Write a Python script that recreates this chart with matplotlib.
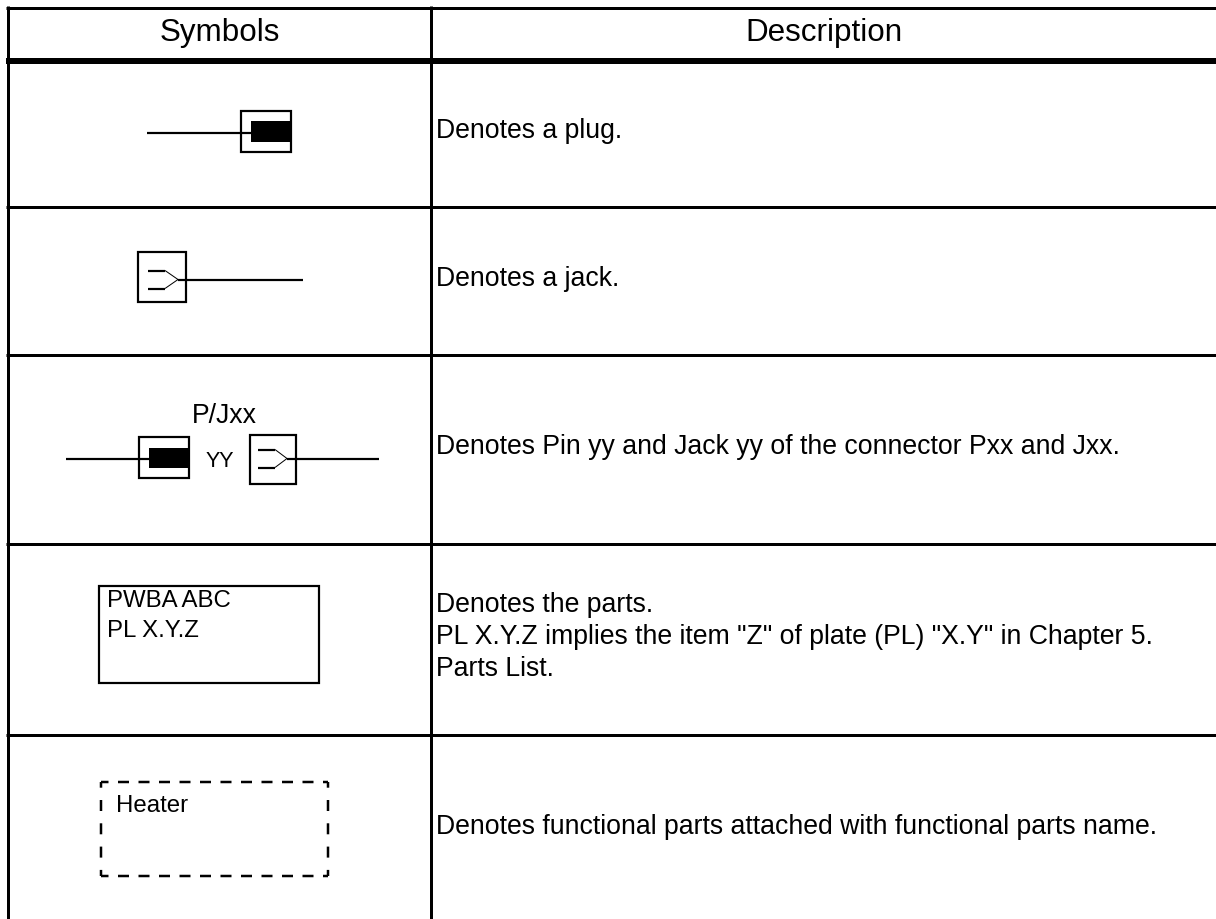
import matplotlib.pyplot as plt
from matplotlib.patches import Rectangle

plt.rcParams['font.family'] = ['Liberation Sans', 'DejaVu Sans']

headers = ['Symbols', 'Description']
descriptions = [
    'Denotes a plug.',
    'Denotes a jack.',
    'Denotes Pin yy and Jack yy of the connector Pxx and Jxx.',
    'Denotes the parts.',
    'PL X.Y.Z implies the item "Z" of plate (PL) "X.Y" in Chapter 5.',
    'Parts List.',
    'Denotes functional parts attached with functional parts name.',
]
part_labels = ['PWBA ABC', 'PL X.Y.Z']
heater_label = 'Heater'
connector_labels = ['P/Jxx', 'YY']

W, H = 1216, 919
PX = 72 / 100
BODY = 19.2
SMALL = 17.3
LW = 3 * PX
THIN = 2.2 * PX
DASH = 2.5 * PX

fig = plt.figure(figsize=(W / 100, H / 100), dpi=100)
ax = fig.add_axes([0, 0, 1, 1])
ax.set_xlim(0, W)
ax.set_ylim(H, 0)
ax.axis('off')


def line(xs, ys, lw=THIN, **kw):
    ax.plot(xs, ys, color='black', lw=lw, solid_capstyle='butt',
            solid_joinstyle='miter', dash_capstyle='butt', **kw)


def box(x0, y0, x1, y1):
    ax.add_patch(Rectangle((x0, y0), x1 - x0, y1 - y0, fill=False,
                           edgecolor='black', lw=THIN))


def plug(x_start, y, x0, x1, y0, y1, x_fill, y_fill0, y_fill1):
    line([x_start, x_fill], [y, y])
    box(x0, y0, x1, y1)
    ax.add_patch(Rectangle((x_fill, y_fill0), x1 + 1 - x_fill, y_fill1 - y_fill0,
                           facecolor='black', edgecolor='none'))


def jack(x0, x1, y0, y1, y, x_end, x_a, x_b, x_c, dy):
    box(x0, y0, x1, y1)
    line([x_c, x_end], [y, y])
    # prongs are heavier than the slanted part
    line([x_a, x_b], [y - dy, y - dy])
    line([x_a, x_b], [y + dy, y + dy])
    line([x_b, x_c, x_b], [y - dy, y, y + dy], lw=1 * PX)


# table rules
line([6, W], [7.5, 7.5], lw=LW)
line([6, W], [61, 61], lw=6 * PX)
for y in [207, 354.5, 544, 735]:
    line([6, W], [y, y], lw=LW)
line([7.5, 7.5], [6, H], lw=LW)
line([431, 431], [6, H], lw=LW)

ax.text(219.5, 41, headers[0], fontsize=22.6, ha='center', va='baseline')
ax.text(824, 41, headers[1], fontsize=22.6, ha='center', va='baseline')

# symbols
plug(147, 133, 241, 291, 111, 152, 251, 121, 141.5)
jack(138, 186, 252, 302, 279.5, 303, 147.5, 165, 178, 9)

plug(66, 458.5, 139, 189, 437, 478, 149, 447.5, 467.5)
jack(250, 296, 435, 484, 458.5, 379, 258, 275, 287, 9)
ax.text(224.5, 423, connector_labels[0], fontsize=BODY, ha='center', va='baseline')
ax.text(220, 467, connector_labels[1], fontsize=15.5, ha='center', va='baseline')

box(99, 586, 319, 683)
ax.text(107, 607, part_labels[0], fontsize=SMALL, va='baseline')
ax.text(107, 637, part_labels[1], fontsize=SMALL, va='baseline')

# dashed box, sides have a longer gap than top and bottom
for y in [782, 876]:
    line([101, 328], [y, y], lw=DASH, linestyle=(1.4, (4.4, 3.8)))
for x in [101, 328]:
    line([x, x], [782, 876], lw=DASH, linestyle=(2.12, (4.4, 4.92)))
ax.text(116, 812.5, heater_label, fontsize=SMALL, va='baseline')

# description column
desc_y = [138, 285.5, 454, 612, 644, 676, 834.5]
for text, y in zip(descriptions, desc_y):
    ax.text(436, y, text, fontsize=BODY, va='baseline')

fig.savefig('out.png', dpi=100)
